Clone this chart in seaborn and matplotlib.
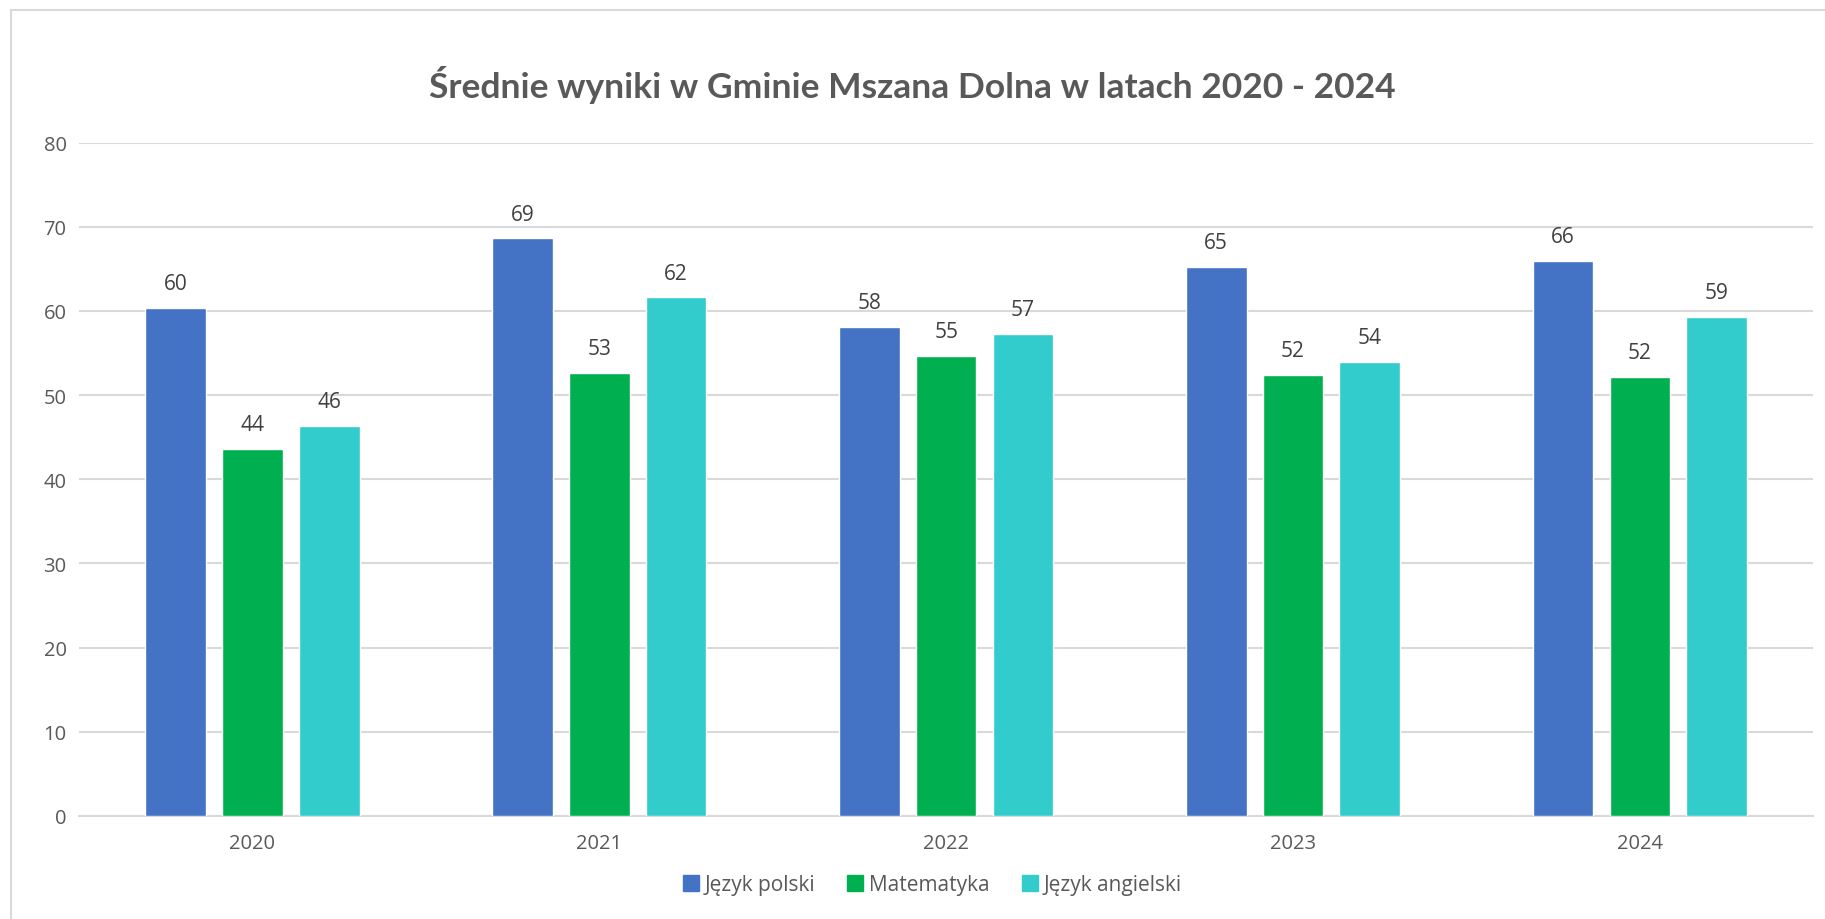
import matplotlib
matplotlib.use("Agg")
import matplotlib.pyplot as plt
import seaborn as sns
import pandas as pd
from matplotlib.lines import Line2D

years = ["2020", "2021", "2022", "2023", "2024"]
subjects = ["Język polski", "Matematyka", "Język angielski"]
polski = [60.3, 68.6, 58.1, 65.2, 65.9]
matematyka = [43.6, 52.6, 54.6, 52.4, 52.1]
angielski = [46.3, 61.6, 57.3, 53.9, 59.3]
colors = ["#4472C4", "#00B050", "#33CCCC"]
title = "Średnie wyniki w Gminie Mszana Dolna w latach 2020 - 2024"

df = pd.DataFrame({
    "Rok": years * 3,
    "Przedmiot": [subjects[0]] * 5 + [subjects[1]] * 5 + [subjects[2]] * 5,
    "Wynik": polski + matematyka + angielski,
})

sns.set_theme(style="white")
plt.rcParams["font.family"] = ["Open Sans", "DejaVu Sans"]

fig = plt.figure(figsize=(18.25, 9.2), dpi=100)
ax = fig.add_axes([0.0433, 0.112, 0.9503, 0.732])

sns.barplot(data=df, x="Rok", y="Wynik", hue="Przedmiot", hue_order=subjects,
            palette=colors, width=0.664, gap=0.21, saturation=1, ax=ax,
            legend=False, zorder=3)

ax.set_ylim(0, 80)
ax.set_xlim(-0.5, 4.5)
ax.set_yticks(range(0, 81, 10))
ax.yaxis.grid(True, color="#D9D9D9", linewidth=1.5, zorder=0)
ax.set_axisbelow(True)
for s in ["top", "right", "left"]:
    ax.spines[s].set_visible(False)
ax.spines["bottom"].set_color("#D9D9D9")
ax.spines["bottom"].set_linewidth(1.5)
ax.tick_params(axis="both", length=0, labelsize=14.5, labelcolor="#595959")
ax.tick_params(axis="y", pad=9)
ax.tick_params(axis="x", pad=12)
ax.set_xlabel("")
ax.set_ylabel("")

for cont in ax.containers:
    ax.bar_label(cont, fmt="%.0f", padding=10, fontsize=15, color="#404040")

fig.text(0.5, 0.908, title, ha="center", va="center", fontsize=25.5,
         fontweight="bold", color="#595959", family=["Lato", "DejaVu Sans"])

handles = [Line2D([0], [0], marker="s", linestyle="none", markersize=12,
                  markerfacecolor=c, markeredgecolor=c) for c in colors]
fig.legend(handles, subjects, loc="center", bbox_to_anchor=(0.511, 0.037),
           ncol=3, frameon=False, fontsize=15, labelcolor="#595959",
           handlelength=0.7, handletextpad=0.3, columnspacing=1.6)

# outer chart border (left and top visible)
fig.add_artist(Line2D([10.5 / 1825, 10.5 / 1825], [0, 1 - 10.5 / 920],
                      transform=fig.transFigure, color="#D9D9D9", linewidth=1.5))
fig.add_artist(Line2D([10.5 / 1825, 1], [1 - 10.5 / 920, 1 - 10.5 / 920],
                      transform=fig.transFigure, color="#D9D9D9", linewidth=1.5))

fig.savefig("out.png", dpi=100, facecolor="white")
